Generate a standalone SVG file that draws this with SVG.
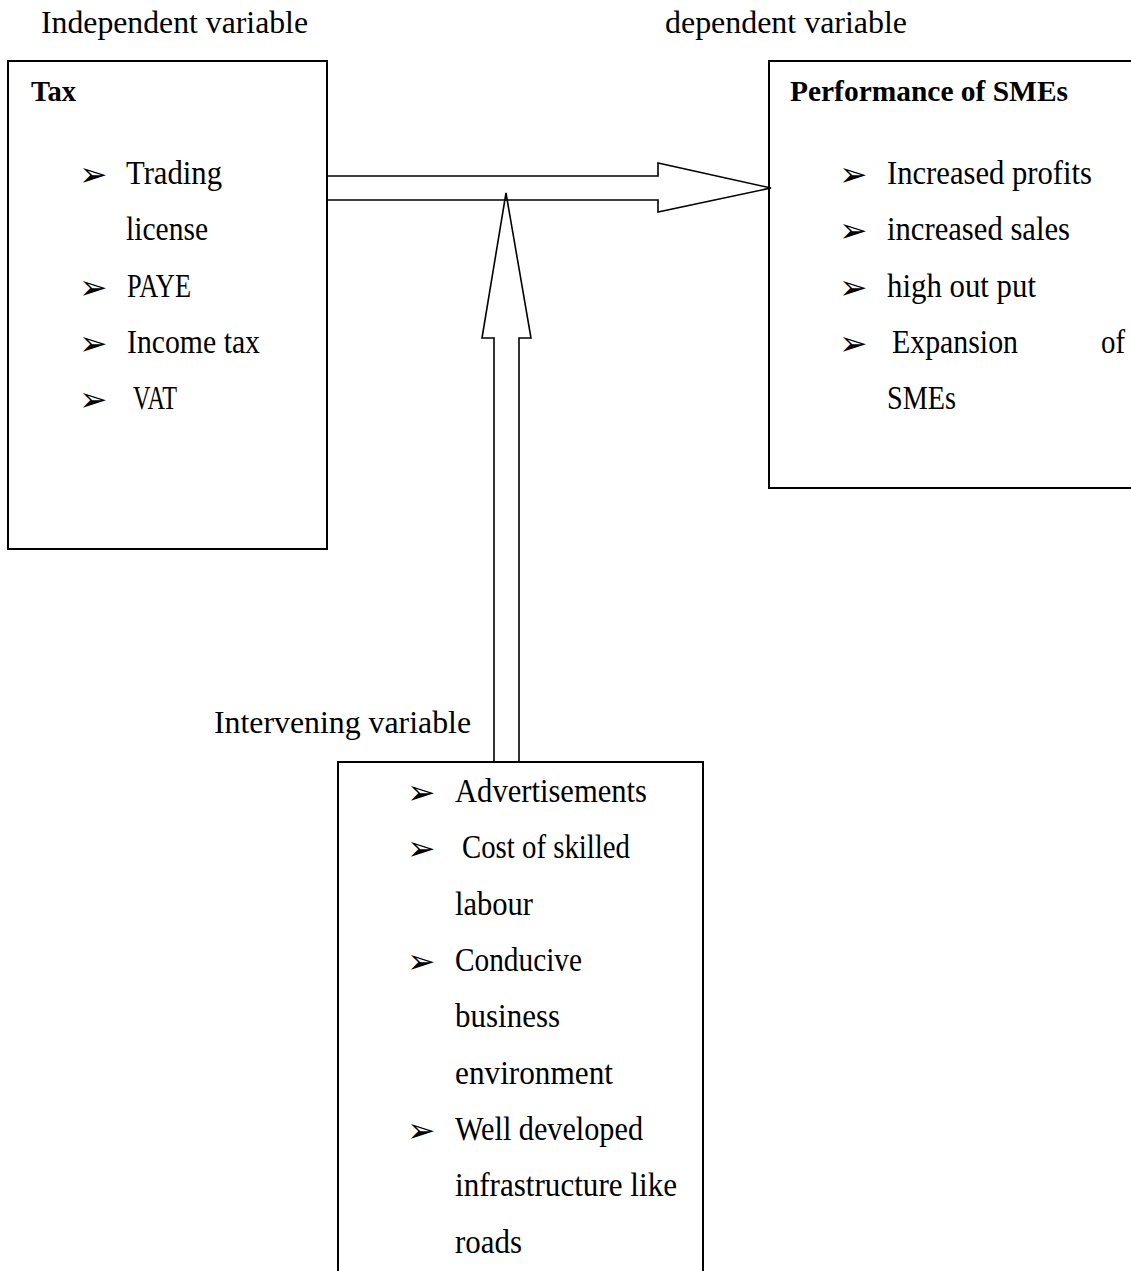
<svg xmlns="http://www.w3.org/2000/svg" width="1131" height="1271" viewBox="0 0 1131 1271">
<style>
.box{fill:none;stroke:#000;stroke-width:2}
.arr{fill:none;stroke:#000;stroke-width:1.6;stroke-linejoin:miter}
.lbl{font-family:"Liberation Serif","Times New Roman",serif;font-size:31px;fill:#000}
.ttl{font-family:"Liberation Serif","Times New Roman",serif;font-size:29px;font-weight:bold;fill:#000}
.it{font-family:"Liberation Serif","Times New Roman",serif;font-size:34px;fill:#000}
.bu{font-family:"DejaVu Sans",sans-serif;font-size:34px;fill:#000}
</style>
<rect width="1131" height="1271" fill="#fff"/>
<text class="lbl" x="41" y="33" textLength="267" lengthAdjust="spacingAndGlyphs">Independent variable</text>
<text class="lbl" x="665" y="33" textLength="242" lengthAdjust="spacingAndGlyphs">dependent variable</text>
<text class="lbl" x="214" y="733" textLength="257" lengthAdjust="spacingAndGlyphs">Intervening variable</text>
<g id="connectors">
<polyline class="arr" points="327,176 658,176 658,163 771,188 658,212 658,200 327,200"/>
<polyline class="arr" points="494,762 494,338 482,338 506,193 531,338 519,338 519,762"/>
</g>
<g id="tax">
<rect class="box" x="8" y="61" width="319" height="488"/>
<text class="ttl" x="31" y="101" textLength="45" lengthAdjust="spacingAndGlyphs">Tax</text>
<text class="bu" x="79" y="186">➢</text>
<text class="it" x="126" y="184" textLength="96" lengthAdjust="spacingAndGlyphs">Trading</text>
<text class="it" x="126" y="240" textLength="82" lengthAdjust="spacingAndGlyphs">license</text>
<text class="bu" x="79" y="299">➢</text>
<text class="it" x="127" y="297" textLength="64" lengthAdjust="spacingAndGlyphs">PAYE</text>
<text class="bu" x="79" y="355">➢</text>
<text class="it" x="127" y="353" textLength="133" lengthAdjust="spacingAndGlyphs">Income tax</text>
<text class="bu" x="79" y="411">➢</text>
<text class="it" x="133" y="409" textLength="44" lengthAdjust="spacingAndGlyphs">VAT</text>
</g>
<g id="performance">
<rect class="box" x="769" y="61" width="380" height="427"/>
<text class="ttl" x="790" y="101" textLength="278" lengthAdjust="spacingAndGlyphs">Performance of SMEs</text>
<text class="bu" x="839" y="186">➢</text>
<text class="it" x="887" y="184" textLength="205" lengthAdjust="spacingAndGlyphs">Increased profits</text>
<text class="bu" x="839" y="242">➢</text>
<text class="it" x="887" y="240" textLength="183" lengthAdjust="spacingAndGlyphs">increased sales</text>
<text class="bu" x="839" y="299">➢</text>
<text class="it" x="887" y="297" textLength="149" lengthAdjust="spacingAndGlyphs">high out put</text>
<text class="bu" x="839" y="355">➢</text>
<text class="it" x="892" y="353" textLength="126" lengthAdjust="spacingAndGlyphs">Expansion</text>
<text class="it" x="1101" y="353" textLength="24" lengthAdjust="spacingAndGlyphs">of</text>
<text class="it" x="887" y="409" textLength="69" lengthAdjust="spacingAndGlyphs">SMEs</text>
</g>
<g id="intervening">
<rect class="box" x="338" y="762" width="365" height="530"/>
<text class="bu" x="407" y="804">➢</text>
<text class="it" x="455" y="802" textLength="192" lengthAdjust="spacingAndGlyphs">Advertisements</text>
<text class="bu" x="407" y="860">➢</text>
<text class="it" x="462" y="858" textLength="168" lengthAdjust="spacingAndGlyphs">Cost of skilled</text>
<text class="it" x="455" y="915" textLength="78" lengthAdjust="spacingAndGlyphs">labour</text>
<text class="bu" x="407" y="973">➢</text>
<text class="it" x="455" y="971" textLength="127" lengthAdjust="spacingAndGlyphs">Conducive</text>
<text class="it" x="455" y="1027" textLength="105" lengthAdjust="spacingAndGlyphs">business</text>
<text class="it" x="455" y="1084" textLength="158" lengthAdjust="spacingAndGlyphs">environment</text>
<text class="bu" x="407" y="1142">➢</text>
<text class="it" x="455" y="1140" textLength="188" lengthAdjust="spacingAndGlyphs">Well developed</text>
<text class="it" x="455" y="1196" textLength="222" lengthAdjust="spacingAndGlyphs">infrastructure like</text>
<text class="it" x="455" y="1253" textLength="67" lengthAdjust="spacingAndGlyphs">roads</text>
</g>
</svg>
